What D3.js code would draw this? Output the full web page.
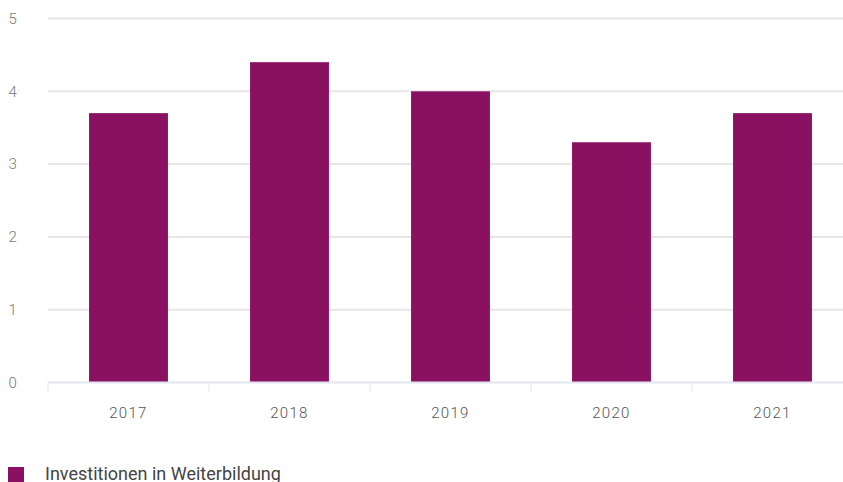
<!DOCTYPE html>
<html><head><meta charset="utf-8">
<script src="https://cdn.jsdelivr.net/npm/d3@7"></script>
<style>
html,body{margin:0;padding:0;background:#fff;}
svg{display:block;font-family:Roboto, "Noto Sans", sans-serif;}
</style></head>
<body>
<div id="chart"></div>
<script>
const categories = ["2017", "2018", "2019", "2020", "2021"];
const values = [3.7, 4.4, 4.0, 3.3, 3.7];
const yTicks = [0, 1, 2, 3, 4, 5];
const seriesName = "Investitionen in Weiterbildung";

const W = 843, H = 482;
const svg = d3.select("#chart").append("svg").attr("width", W).attr("height", H);

const x = d3.scaleBand().domain(categories).range([48, 853]).paddingInner(0).paddingOuter(0);
const y = d3.scaleLinear().domain([0, 5]).range([382.5, 18.5]);

// gridlines
svg.append("g").selectAll("line").data(yTicks.filter(d => d > 0)).join("line")
  .attr("x1", 48).attr("x2", 853)
  .attr("y1", d => y(d)).attr("y2", d => y(d))
  .attr("stroke", "#e6e6e6").attr("stroke-width", 2);

// y labels
svg.append("g").selectAll("text").data(yTicks).join("text")
  .attr("x", 8.5).attr("y", d => y(d)).attr("dy", "0.35em")
  .attr("fill", "#777").attr("font-size", 15).attr("font-weight", 300).text(d => d);

// bars
const bw = x.bandwidth() * 0.49;
svg.append("g").selectAll("rect").data(values).join("rect")
  .attr("x", (d, i) => x(categories[i]) + x.bandwidth() / 2 - bw / 2)
  .attr("width", bw)
  .attr("y", d => y(d))
  .attr("height", d => y(0) - y(d))
  .attr("fill", "#8a1062");

// x axis
const gx = svg.append("g").attr("transform", `translate(0,${y(0)})`);
gx.append("line").attr("x1", 48).attr("x2", 853).attr("stroke", "#e3e6ee").attr("stroke-width", 2);
gx.selectAll("line.tick").data(categories).join("line").attr("class", "tick")
  .attr("x1", d => x(d)).attr("x2", d => x(d)).attr("y1", 0).attr("y2", 10)
  .attr("stroke", "#e3e6ee").attr("stroke-width", 1);
gx.selectAll("text").data(categories).join("text")
  .attr("x", d => x(d) + x.bandwidth() / 2).attr("y", 35)
  .attr("text-anchor", "middle").attr("fill", "#555").attr("font-size", 15)
  .attr("font-weight", 300).attr("letter-spacing", "1.3px").text(d => d);

// legend
const lg = svg.append("g").attr("transform", "translate(8,467)");
lg.append("rect").attr("width", 16).attr("height", 15).attr("fill", "#8a1062");
lg.append("text").attr("x", 37).attr("y", 13)
  .attr("fill", "#444").attr("font-size", 18).text(seriesName);
</script>
</body></html>
